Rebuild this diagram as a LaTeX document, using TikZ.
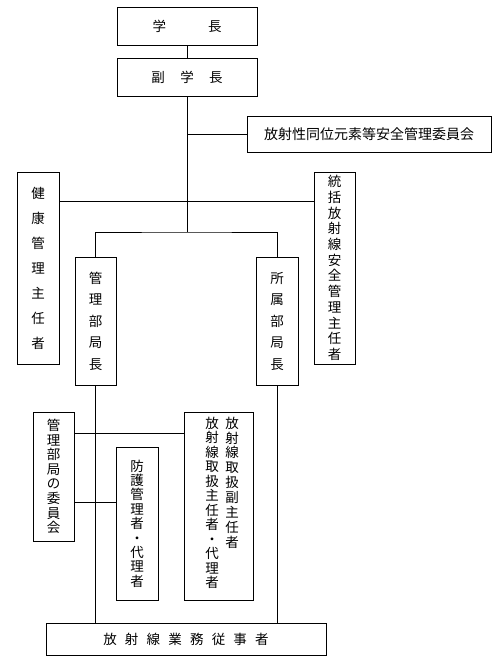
\documentclass[tikz,border=0pt]{standalone}
\usepackage{fontspec}
\setmainfont{Noto Sans CJK JP}
\begin{document}
\begin{tikzpicture}[x=1pt,y=-1pt,line width=0.8pt,
  box/.style={draw,inner sep=0pt,align=center,font=\fontsize{13.5}{16}\selectfont},
  vtext/.style={inner sep=0pt,align=center,font=\fontsize{13.5}{#1}\selectfont}]
\useasboundingbox (0,0) rectangle (497,658);
% boxes
\node[box,minimum width=140pt,minimum height=38pt] (gaku) at (187,26) {学\hspace{42pt}長};
\node[box,minimum width=140pt,minimum height=38pt] (fuku) at (187,77) {副\hspace{15.5pt}学\hspace{15.5pt}長};
\node[box,minimum width=244pt,minimum height=36pt,font=\fontsize{14}{16}\selectfont] (rikai) at (369,134) {放射性同位元素等安全管理委員会};
\node[box,minimum width=42pt,minimum height=192pt,font=\fontsize{13.5}{25}\selectfont] (kenko) at (38,268) {健\\康\\管\\理\\主\\任\\者};
\node[box,minimum width=41pt,minimum height=192pt,font=\fontsize{13.5}{15.7}\selectfont] (tokatsu) at (334.5,268) {統\\括\\放\\射\\線\\安\\全\\管\\理\\主\\任\\者};
\node[box,minimum width=41pt,minimum height=128pt,font=\fontsize{13.5}{21.5}\selectfont] (kanri) at (95.5,321) {管\\理\\部\\局\\長};
\node[box,minimum width=42pt,minimum height=128pt,font=\fontsize{13.5}{21.5}\selectfont] (shozoku) at (277,321) {所\\属\\部\\局\\長};
\node[box,minimum width=41pt,minimum height=129pt,font=\fontsize{13.5}{14.6}\selectfont] (bukyoku) at (53.5,476.5) {管\\理\\部\\局\\の\\委\\員\\会};
\node[box,minimum width=42pt,minimum height=153pt,font=\fontsize{13.5}{14.4}\selectfont] (bougo) at (137,523.5) {防\\護\\管\\理\\者\\・\\代\\理\\者};
\node[box,minimum width=69pt,minimum height=188pt] (rbox) at (218.5,506) {};
\node[vtext=14.9] (rcol1) at (232,482.6) {放\\射\\線\\取\\扱\\副\\主\\任\\者};
\node[vtext=14.5] (rcol2) at (212,502.8) {放\\射\\線\\取\\扱\\主\\任\\者\\・\\代\\理\\者};
\node[box,minimum width=280pt,minimum height=32pt] (juji) at (186,639) {放\hspace{8.2pt}射\hspace{8.2pt}線\hspace{8.2pt}業\hspace{8.2pt}務\hspace{8.2pt}従\hspace{8.2pt}事\hspace{8.2pt}者};
% junctions
\coordinate (jc) at (187,134);
\coordinate (jh) at (187,201);
\coordinate (jb) at (187,232);
\coordinate (jm1) at (74,433);
\coordinate (jm2) at (74,502);
% connectors
\draw (gaku) -- (fuku);
\draw (fuku.south) -- (jb);
\draw (jc) -- (rikai.west);
\draw (kenko.east |- jh) -- (tokatsu.west |- jh);
\draw (kanri.north) |- (jb) -| (shozoku.north);
\draw (kanri.south) -- (kanri.south |- juji.north);
\draw (shozoku.south) -- (shozoku.south |- juji.north);
\draw (bukyoku.east |- jm1) -- (rbox.west |- jm1);
\draw (bukyoku.east |- jm2) -- (bougo.west |- jm2);
\end{tikzpicture}
\end{document}
